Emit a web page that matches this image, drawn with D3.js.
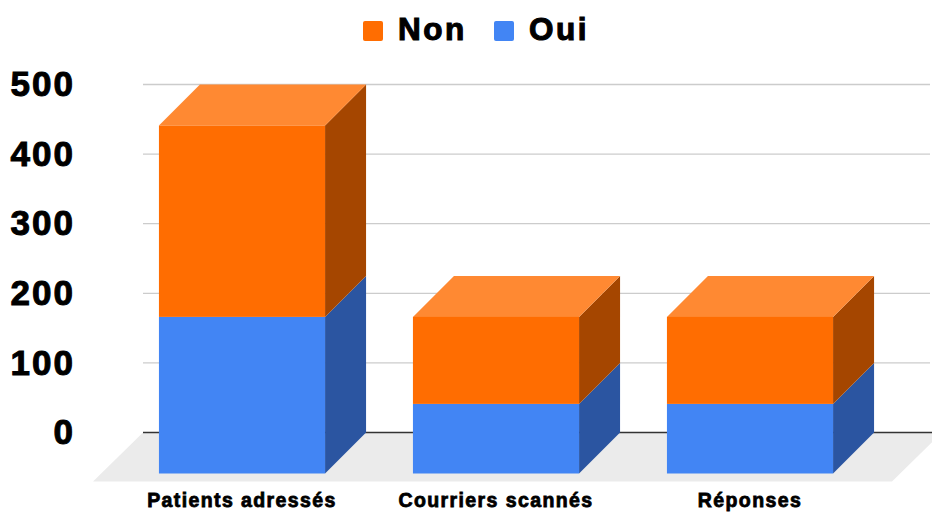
<!DOCTYPE html>
<html>
<head>
<meta charset="utf-8">
<script src="https://cdn.jsdelivr.net/npm/d3@7"></script>
<style>
  body { margin: 0; background: #fff; }
  text { font-family: "Liberation Sans", Arial, sans-serif; font-weight: bold; fill: #000; }
</style>
</head>
<body>
<svg id="chart" width="932" height="512"></svg>
<script>
var categories = ["Patients adressés", "Courriers scannés", "Réponses"];
var seriesNames = ["Non", "Oui"];
var oui = [225, 100, 100];
var non = [275, 125, 125];
var yTicks = [0, 100, 200, 300, 400, 500];

var width = 932, height = 512;
var depthX = 41, depthY = 41;
var plotLeft = 143, plotRight = 932;

var colors = {
  Oui: { front: "#4285f4", side: "#2b55a1", top: "#6aa0f7" },
  Non: { front: "#ff6d01", side: "#a54600", top: "#ff8932" }
};

var svg = d3.select("#chart");

// back-plane scales; the front faces are shifted by (-depthX, +depthY)
var y = d3.scaleLinear().domain([0, 500]).range([432.5, 84.5]);
var x = d3.scaleBand()
  .domain(categories)
  .range([156, 918])
  .paddingInner(0.346)
  .paddingOuter(0.173);

// floor
var y0 = y(0);
svg.append("polygon")
  .attr("points", [
    [plotLeft, y0], [plotRight + 10, y0],
    [plotRight + 10 - 50, y0 + 49], [plotLeft - 50, y0 + 49]
  ].join(" "))
  .attr("fill", "#ebebeb");

// gridlines
svg.append("g")
  .selectAll("line")
  .data(yTicks.filter(d => d > 0))
  .join("line")
  .attr("x1", plotLeft)
  .attr("x2", 930)
  .attr("y1", d => y(d))
  .attr("y2", d => y(d))
  .attr("stroke", "#cccccc")
  .attr("stroke-width", 1.3);

svg.append("line")
  .attr("x1", plotLeft)
  .attr("x2", plotRight)
  .attr("y1", y0)
  .attr("y2", y0)
  .attr("stroke", "#333")
  .attr("stroke-width", 1.5);

// y axis labels
var yAxis = svg.append("g")
  .attr("transform", "translate(" + plotLeft + ",0)")
  .call(d3.axisLeft(y).tickValues(yTicks).tickSize(0).tickPadding(68));
yAxis.select(".domain").remove();
yAxis.selectAll("text")
  .attr("font-size", 35)
  .attr("font-family", null)
  .attr("letter-spacing", 2)
  .attr("stroke", "#000")
  .attr("stroke-width", 1)
  .attr("fill", "#000");

// stacked segments
var segments = [];
categories.forEach(function (c, i) {
  segments.push({ cat: c, name: "Oui", v0: 0, v1: oui[i], top: false });
  segments.push({ cat: c, name: "Non", v0: oui[i], v1: oui[i] + non[i], top: true });
});

function frontX(c) { return x(c) - depthX; }
function frontY(v) { return y(v) + depthY; }

var bars = svg.append("g");

categories.forEach(function (c) {
  var segs = segments.filter(s => s.cat === c);
  var xl = frontX(c), xr = xl + x.bandwidth();
  var g = bars.append("g");

  segs.forEach(function (s) {
    g.append("polygon")
      .attr("points", [
        [xr, frontY(s.v0)], [xr, frontY(s.v1)],
        [xr + depthX, y(s.v1)], [xr + depthX, y(s.v0)]
      ].join(" "))
      .attr("fill", colors[s.name].side);
  });

  segs.filter(s => s.top).forEach(function (s) {
    g.append("polygon")
      .attr("points", [
        [xl, frontY(s.v1)], [xr, frontY(s.v1)],
        [xr + depthX, y(s.v1)], [xl + depthX, y(s.v1)]
      ].join(" "))
      .attr("fill", colors[s.name].top);
  });

  segs.forEach(function (s) {
    g.append("rect")
      .attr("x", xl)
      .attr("y", frontY(s.v1))
      .attr("width", x.bandwidth())
      .attr("height", frontY(s.v0) - frontY(s.v1))
      .attr("fill", colors[s.name].front);
  });
});

// category labels
svg.append("g")
  .selectAll("text")
  .data(categories)
  .join("text")
  .attr("x", d => frontX(d) + x.bandwidth() / 2)
  .attr("y", 507)
  .attr("text-anchor", "middle")
  .attr("font-size", 19.5)
  .attr("letter-spacing", 1.4)
  .attr("stroke", "#000")
  .attr("stroke-width", 0.8)
  .text(d => d);

// legend
var legendX = [363, 494];
var legend = svg.append("g")
  .selectAll("g")
  .data(seriesNames)
  .join("g")
  .attr("transform", (d, i) => "translate(" + legendX[i] + ",21)");
legend.append("rect")
  .attr("width", 20)
  .attr("height", 20)
  .attr("rx", 2)
  .attr("fill", d => colors[d].front);
legend.append("text")
  .attr("x", 35)
  .attr("y", 18.5)
  .attr("font-size", 31.5)
  .attr("letter-spacing", 2.5)
  .attr("stroke", "#000")
  .attr("stroke-width", 1.1)
  .text(d => d);
</script>
</body>
</html>
